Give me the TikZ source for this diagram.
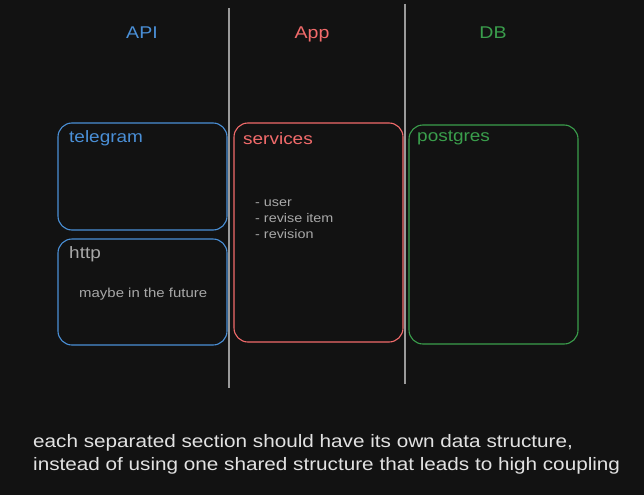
\documentclass[tikz,border=0pt]{standalone}
\usepackage{fontspec}
\setmainfont[FakeStretch=1.15]{Liberation Sans}
\definecolor{bg}{HTML}{121212}
\definecolor{cblue}{HTML}{4A8FD6}
\definecolor{cred}{HTML}{F26B6B}
\definecolor{cgreen}{HTML}{3A9E4C}
\definecolor{cgray}{HTML}{9A9A9A}
\definecolor{ctext}{HTML}{A8A8A8}
\definecolor{cwhite}{HTML}{E2E2E2}
\tikzset{
  box/.style={draw, line width=1.1pt, rounded corners=14pt, inner sep=0pt},
  head/.style={font=\fontsize{17}{20}\selectfont, anchor=center},
  boxlabel/.style={font=\fontsize{16.5}{19}\selectfont, anchor=west, inner sep=0pt},
  small/.style={font=\fontsize{12.5}{14}\selectfont, anchor=west, inner sep=0pt, text=ctext},
  divider/.style={draw=cgray, line width=1.6pt},
}
\begin{document}
\begin{tikzpicture}[x=1pt,y=-1pt]
\fill[bg] (0,0) rectangle (644,495);
\useasboundingbox (0,0) rectangle (644,495);
% dividers
\coordinate (d1t) at (229,8); \coordinate (d1b) at (229,388);
\coordinate (d2t) at (405,4); \coordinate (d2b) at (405,384);
\draw[divider] (d1t) -- (d1b);
\draw[divider] (d2t) -- (d2b);
% headers
\node[head, text=cblue] (api) at (142,33) {API};
\node[head, text=cred] (app) at (312,34) {App};
\node[head, text=cgreen] (db) at (493,33) {DB};
% boxes
\draw[box, cblue] (58,123) rectangle (227,230);
\draw[box, cblue] (58,239) rectangle (227,345);
\draw[box, cred] (234,123) rectangle (403,342);
\draw[box, cgreen] (409,125) rectangle (578,344);
% labels
\node[boxlabel, text=cblue] (tg) at (69,138) {telegram};
\node[boxlabel, text=ctext] (http) at (69,254) {http};
\node[small, font=\fontsize{13}{15}\selectfont] (maybe) at (79,294) {maybe in the future};
\node[boxlabel, text=cred] (svc) at (243,139) {services};
\node[small] (l1) at (255,203) {- user};
\node[small] (l2) at (255,218) {- revise item};
\node[small] (l3) at (255,234) {- revision};
\node[boxlabel, text=cgreen] (pg) at (417,138) {postgres};
% bottom note
\node[anchor=north west, inner sep=0pt, text=cwhite, align=left, font=\fontsize{18}{23}\selectfont] (note) at (33,434)
 {each separated section should have its own data structure,\\instead of using one shared structure that leads to high coupling};
\end{tikzpicture}
\end{document}
